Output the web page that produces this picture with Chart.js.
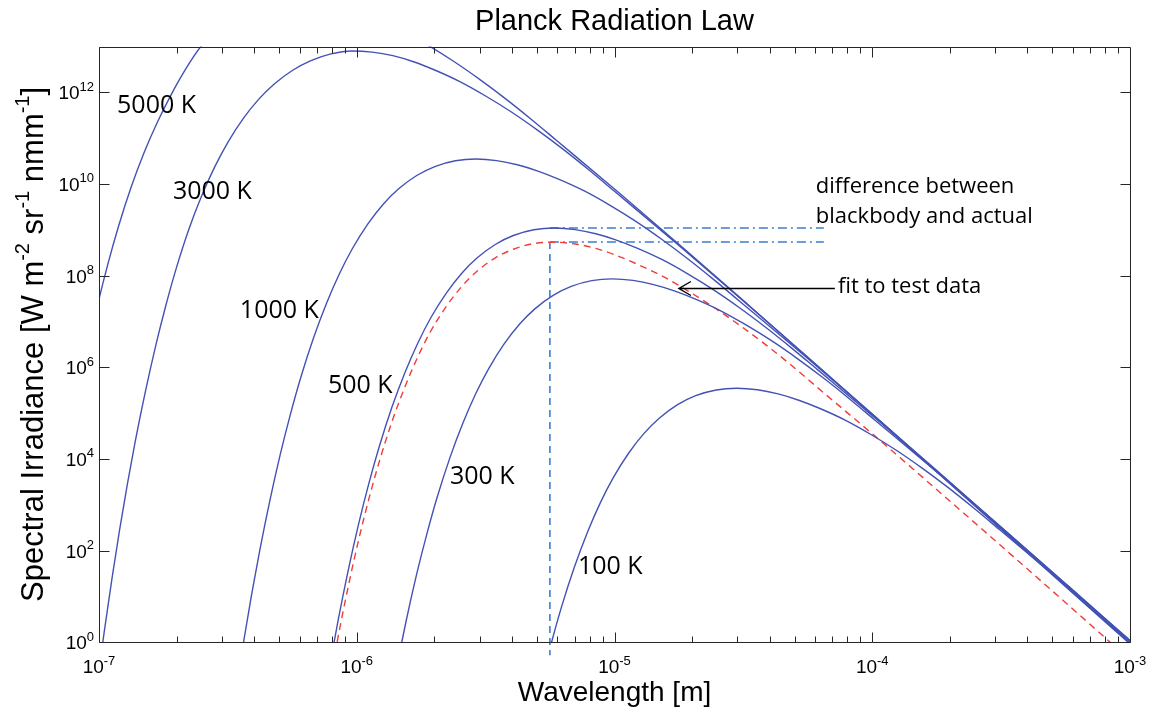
<!DOCTYPE html>
<html>
<head>
<meta charset="utf-8">
<title>Planck Radiation Law</title>
<script src="https://cdn.jsdelivr.net/npm/chart.js@4.4.1/dist/chart.umd.min.js"></script>
<style>
  html, body { margin: 0; padding: 0; background: #fff; }
  #wrap { width: 1151px; height: 711px; }
</style>
</head>
<body>
<div id="wrap"><canvas id="planck" width="1151" height="711"></canvas></div>
<script>
// wavelength [m] / spectral irradiance
var wl5000 = [9.027e-8, 9.897e-8, 1.085e-7, 1.190e-7, 1.335e-7, 1.498e-7, 1.681e-7, 1.886e-7, 2.165e-7, 2.486e-7, 2.854e-7, 3.353e-7, 3.940e-7, 4.737e-7, 5.695e-7, 6.847e-7, 8.232e-7, 9.897e-7, 1.190e-6, 1.498e-6, 1.886e-6, 2.374e-6, 2.989e-6, 3.762e-6, 4.736e-6, 5.963e-6, 1.060e-5, 1.886e-5, 3.353e-5, 5.963e-5, 1.060e-4, 1.886e-4, 3.353e-4, 5.963e-4, 1.060e-3];
var irr5000 = [2.427e6, 2.421e7, 1.879e8, 1.183e9, 8.790e9, 4.932e10, 2.173e11, 7.980e11, 3.162e12, 1.009e13, 2.344e13, 4.786e13, 7.516e13, 1.002e14, 1.094e14, 1.012e14, 8.204e13, 5.984e13, 4.000e13, 2.203e13, 1.069e13, 4.775e12, 1.945e12, 7.396e11, 2.624e11, 8.892e10, 5.875e9, 3.622e8, 2.133e7, 1.227e6, 6.902e4, 3.882e3, 218.3, 12.27, 0.690];

var wl3000 = [1.000e-7, 1.047e-7, 1.122e-7, 1.202e-7, 1.288e-7, 1.380e-7, 1.514e-7, 1.660e-7, 1.820e-7, 1.995e-7, 2.239e-7, 2.512e-7, 2.818e-7, 3.162e-7, 3.631e-7, 4.169e-7, 4.786e-7, 5.623e-7, 6.607e-7, 7.943e-7, 9.550e-7, 1.148e-6, 1.380e-6, 1.660e-6, 1.995e-6, 2.512e-6, 3.162e-6, 3.981e-6, 5.012e-6, 6.310e-6, 7.943e-6, 1.000e-5, 1.778e-5, 3.162e-5, 5.623e-5, 1.000e-4, 1.778e-4, 3.162e-4, 5.623e-4, 1.000e-3];
var irr3000 = [0.245, 1.652, 23.99, 285.1, 2.799e3, 2.317e4, 2.992e5, 2.985e6, 2.317e7, 1.459e8, 1.084e9, 5.821e9, 2.427e10, 8.128e10, 2.704e11, 7.112e11, 1.521e12, 2.992e12, 4.853e12, 6.887e12, 7.980e12, 7.551e12, 6.310e12, 4.656e12, 3.112e12, 1.714e12, 8.318e11, 3.715e11, 1.514e11, 5.754e10, 2.042e10, 6.918e9, 4.571e8, 2.818e7, 1.660e6, 9.550e4, 5.370e3, 302.0, 16.98, 0.955];

var wl1000 = [3.410e-7, 3.654e-7, 3.915e-7, 4.196e-7, 4.601e-7, 5.044e-7, 5.531e-7, 6.065e-7, 6.805e-7, 7.635e-7, 8.566e-7, 9.612e-7, 1.103e-6, 1.267e-6, 1.454e-6, 1.709e-6, 2.008e-6, 2.415e-6, 2.903e-6, 3.489e-6, 4.196e-6, 5.044e-6, 6.065e-6, 7.635e-6, 9.612e-6, 1.210e-5, 1.524e-5, 1.917e-5, 2.415e-5, 3.040e-5, 5.405e-5, 9.612e-5, 1.709e-4, 3.040e-4, 5.405e-4, 9.612e-4, 1.709e-3];
var irr1000 = [0.0986, 1.172, 11.51, 95.3, 1.230e3, 1.227e4, 9.528e4, 5.998e5, 4.457e6, 2.500e7, 1.102e8, 3.864e8, 1.334e9, 3.622e9, 7.852e9, 1.531e10, 2.404e10, 3.206e10, 3.499e10, 3.236e10, 2.624e10, 1.914e10, 1.279e10, 7.047e9, 3.420e9, 1.528e9, 6.223e8, 2.366e8, 8.395e7, 2.844e7, 1.879e6, 1.159e5, 6.823e3, 392.6, 22.08, 1.242, 0.0698];

var wl500 = [7.370e-7, 7.897e-7, 8.463e-7, 9.279e-7, 1.017e-6, 1.115e-6, 1.223e-6, 1.372e-6, 1.540e-6, 1.728e-6, 1.938e-6, 2.226e-6, 2.556e-6, 2.934e-6, 3.447e-6, 4.050e-6, 4.869e-6, 5.854e-6, 7.038e-6, 8.463e-6, 1.017e-5, 1.223e-5, 1.540e-5, 1.938e-5, 2.441e-5, 3.073e-5, 3.868e-5, 4.869e-5, 6.131e-5, 1.090e-4, 1.938e-4, 3.447e-4, 6.131e-4, 1.090e-3];
var irr500 = [0.0366, 0.360, 2.979, 38.46, 383.7, 2.979e3, 1.875e4, 1.393e5, 7.816e5, 3.443e6, 1.208e7, 4.169e7, 1.132e8, 2.455e8, 4.786e8, 7.516e8, 1.002e9, 1.094e9, 1.012e9, 8.204e8, 5.984e8, 4.000e8, 2.203e8, 1.069e8, 4.775e7, 1.945e7, 7.396e6, 2.624e6, 8.892e5, 5.875e4, 3.622e3, 213.3, 12.27, 0.690];

var wl300 = [1.419e-6, 1.556e-6, 1.706e-6, 1.871e-6, 2.051e-6, 2.301e-6, 2.582e-6, 2.897e-6, 3.251e-6, 3.732e-6, 4.286e-6, 4.921e-6, 5.780e-6, 6.792e-6, 8.165e-6, 9.817e-6, 1.180e-5, 1.419e-5, 1.706e-5, 2.051e-5, 2.582e-5, 3.251e-5, 4.093e-5, 5.153e-5, 6.487e-5, 8.165e-5, 1.028e-4, 1.828e-4, 3.251e-4, 5.780e-4, 1.028e-3];
var irr300 = [0.2317, 2.992, 29.85, 231.7, 1.459e3, 1.084e4, 6.081e4, 2.679e5, 9.397e5, 3.243e6, 8.810e6, 1.910e7, 3.724e7, 5.848e7, 7.798e7, 8.511e7, 7.870e7, 6.383e7, 4.656e7, 3.112e7, 1.714e7, 8.318e6, 3.715e6, 1.514e6, 5.754e5, 2.042e5, 6.918e4, 4.571e3, 281.8, 16.60, 0.955];

var wl100 = [5.186e-6, 5.685e-6, 6.234e-6, 6.995e-6, 7.848e-6, 8.807e-6, 9.880e-6, 1.134e-5, 1.302e-5, 1.495e-5, 1.757e-5, 2.065e-5, 2.482e-5, 2.984e-5, 3.587e-5, 4.313e-5, 5.186e-5, 6.234e-5, 7.848e-5, 9.880e-5, 1.244e-4, 1.566e-4, 1.972e-4, 2.482e-4, 3.124e-4, 5.556e-4, 9.880e-4, 1.757e-3];
var irr100 = [0.1227, 0.953, 5.998, 44.57, 250.0, 1.102e3, 3.864e3, 1.334e4, 3.622e4, 7.852e4, 1.531e5, 2.404e5, 3.206e5, 3.499e5, 3.236e5, 2.624e5, 1.914e5, 1.279e5, 7.047e4, 3.420e4, 1.528e4, 6.223e3, 2.366e3, 839.5, 284.4, 18.79, 1.159, 0.0682];

// red dashed curve: fit to test data
var wlFit = [7.370e-7, 7.897e-7, 8.463e-7, 9.279e-7, 1.017e-6, 1.115e-6, 1.223e-6, 1.372e-6, 1.540e-6, 1.728e-6, 1.938e-6, 2.226e-6, 2.556e-6, 2.934e-6, 3.447e-6, 4.050e-6, 4.869e-6, 5.854e-6, 7.038e-6, 8.463e-6, 1.017e-5, 1.223e-5, 1.540e-5, 1.938e-5, 2.441e-5, 3.073e-5, 3.868e-5, 4.869e-5, 6.131e-5, 1.090e-4, 1.938e-4, 3.447e-4, 6.131e-4, 1.090e-3];
var irrFit = [0.0160, 0.157, 1.300, 16.98, 171.4, 1.361e3, 8.770e3, 6.668e4, 3.828e5, 1.726e6, 6.194e6, 2.138e7, 5.808e7, 1.259e8, 2.455e8, 3.767e8, 5.023e8, 5.358e8, 4.898e8, 3.926e8, 2.767e8, 1.786e8, 9.616e7, 4.560e7, 1.991e7, 8.110e6, 3.083e6, 1.094e6, 3.622e5, 2.339e4, 1.409e3, 82.99, 4.775, 0.2685];

// peak markers (blackbody peak vs fitted peak)
var peakMarkWl = [5.615e-6, 5.615e-6];
var peakMarkIrr = [5.43e8, 0.52];
var levelWl = [5.615e-6, 6.49e-5];
var blackbodyLevel = [1.10e9, 1.10e9];
var fitLevel = [5.43e8, 5.43e8];

// arrow pointing at the fit: [tip, tail]
var arrowWl = [1.778e-5, 7.16e-5];
var arrowIrr = [5.37e7, 5.37e7];

var xTicks = [1e-7, 1e-6, 1e-5, 1e-4, 1e-3];
var xTickExp = ['-7', '-6', '-5', '-4', '-3'];
var yTicks = [1, 1e2, 1e4, 1e6, 1e8, 1e10, 1e12];
var yTickExp = ['0', '2', '4', '6', '8', '10', '12'];

// curve labels and notes, anchored in data coordinates (left edge, baseline)
var notes = [
  { text: '5000 K', wl: 1.175e-7, irr: 3.5e11 },
  { text: '3000 K', wl: 1.936e-7, irr: 4.7e9 },
  { text: '1000 K', wl: 3.52e-7, irr: 1.2e7 },
  { text: '500 K', wl: 7.73e-7, irr: 2.75e5 },
  { text: '300 K', wl: 2.30e-6, irr: 2.8e3 },
  { text: '100 K', wl: 7.21e-6, irr: 31 },
  { text: 'difference between', wl: 6.04e-5, irr: 6.4e9, small: true },
  { text: 'blackbody and actual', wl: 6.04e-5, irr: 1.4e9, small: true },
  { text: 'fit to test data', wl: 7.36e-5, irr: 4.2e7, small: true }
];

var axisFont = '"Liberation Sans", Arial, sans-serif';
var noteFont = '"Open Sans", "Noto Sans", sans-serif';
var ink = '#262626';
var curveBlue = '#4352b4';
var fitRed = '#f03c3c';
var markBlue = '#3b7dcc';

function pairs(xs, ys) {
  return xs.map(function (x, i) { return { x: x, y: ys[i] }; });
}

function planck(xs, ys) {
  return {
    data: pairs(xs, ys),
    borderColor: curveBlue,
    borderWidth: 1.4,
    pointRadius: 0,
    cubicInterpolationMode: 'monotone'
  };
}

function marker(xs, ys, dash) {
  return {
    data: pairs(xs, ys),
    borderColor: markBlue,
    borderWidth: 1.6,
    borderDash: dash,
    pointRadius: 0,
    tension: 0,
    clip: { left: 0, top: 0, right: 0, bottom: false }
  };
}

// mix of normal / superscript runs on one baseline
function richText(ctx, parts, x, y, align, size) {
  var small = Math.round(size * 0.66);
  var rise = size * 0.45;
  var widths = parts.map(function (p) {
    ctx.font = (p[1] ? small : size) + 'px ' + axisFont;
    return ctx.measureText(p[0]).width;
  });
  var total = widths.reduce(function (s, w) { return s + w; }, 0);
  var cx = align === 'center' ? x - total / 2 : (align === 'right' ? x - total : x);
  ctx.textAlign = 'left';
  ctx.textBaseline = 'alphabetic';
  parts.forEach(function (p, i) {
    ctx.font = (p[1] ? small : size) + 'px ' + axisFont;
    ctx.fillText(p[0], cx, p[1] ? y - rise : y);
    cx += widths[i];
  });
}

var matlabAxes = {
  id: 'matlabAxes',
  afterDraw: function (chart) {
    var ctx = chart.ctx;
    var a = chart.chartArea;
    var sx = chart.scales.x;
    var sy = chart.scales.y;
    var L = Math.round(a.left) + 0.5, R = Math.round(a.right) + 0.5;
    var T = Math.round(a.top) + 0.5, B = Math.round(a.bottom) + 0.5;

    ctx.save();
    ctx.strokeStyle = ink;
    ctx.lineWidth = 1;
    ctx.beginPath();
    ctx.rect(L, T, R - L, B - T);

    // x ticks point inward on bottom and top, minor ticks at 2..9
    for (var e = -7; e < -3; e++) {
      for (var k = 1; k < 10; k++) {
        var px = Math.round(sx.getPixelForValue(k * Math.pow(10, e))) + 0.5;
        var len = k === 1 ? 10 : 6;
        ctx.moveTo(px, B); ctx.lineTo(px, B - len);
        ctx.moveTo(px, T); ctx.lineTo(px, T + len);
      }
    }
    yTicks.forEach(function (v) {
      var py = Math.round(sy.getPixelForValue(v)) + 0.5;
      ctx.moveTo(L, py); ctx.lineTo(L + 10, py);
      ctx.moveTo(R, py); ctx.lineTo(R - 10, py);
    });
    ctx.stroke();

    ctx.fillStyle = '#000';
    xTicks.forEach(function (v, i) {
      richText(ctx, [['10', false], [xTickExp[i], true]], sx.getPixelForValue(v), a.bottom + 31, 'center', 19);
    });
    yTicks.forEach(function (v, i) {
      richText(ctx, [['10', false], [yTickExp[i], true]], a.left - 5, sy.getPixelForValue(v) + 7, 'right', 19);
    });

    // title and axis titles
    ctx.textAlign = 'center';
    ctx.textBaseline = 'alphabetic';
    ctx.font = '29px ' + axisFont;
    ctx.fillText('Planck Radiation Law', (a.left + a.right) / 2, 30);
    ctx.font = '28px ' + axisFont;
    ctx.fillText('Wavelength [m]', (a.left + a.right) / 2, 701);

    ctx.save();
    ctx.translate(43, (a.top + a.bottom) / 2);
    ctx.rotate(-Math.PI / 2);
    richText(ctx, [['Spectral Irradiance [W m', false], ['-2', true], [' sr', false], ['-1', true],
      [' nmm', false], ['-1', true], [']', false]], 0, 0, 'center', 31);
    ctx.restore();

    // curve labels and notes
    notes.forEach(function (n) {
      ctx.font = (n.small ? 22 : 25) + 'px ' + noteFont;
      ctx.textAlign = 'left';
      ctx.fillText(n.text, sx.getPixelForValue(n.wl), sy.getPixelForValue(n.irr));
    });

    // arrow to the fitted curve
    var tipX = sx.getPixelForValue(arrowWl[0]), tailX = sx.getPixelForValue(arrowWl[1]);
    var ay = Math.round(sy.getPixelForValue(arrowIrr[0])) + 0.5;
    ctx.strokeStyle = '#000';
    ctx.lineWidth = 1.4;
    ctx.beginPath();
    ctx.moveTo(tailX, ay); ctx.lineTo(tipX, ay);
    ctx.moveTo(tipX + 12, ay - 7); ctx.lineTo(tipX, ay); ctx.lineTo(tipX + 12, ay + 7);
    ctx.stroke();
    ctx.restore();
  }
};

new Chart(document.getElementById('planck'), {
  type: 'line',
  data: {
    datasets: [
      planck(wl5000, irr5000),
      planck(wl3000, irr3000),
      planck(wl1000, irr1000),
      planck(wl500, irr500),
      planck(wl300, irr300),
      planck(wl100, irr100),
      {
        data: pairs(wlFit, irrFit),
        borderColor: fitRed,
        borderWidth: 1.4,
        borderDash: [7, 5],
        pointRadius: 0,
        cubicInterpolationMode: 'monotone'
      },
      marker(peakMarkWl, peakMarkIrr, [7, 5]),
      marker(levelWl, blackbodyLevel, [9, 4, 2, 4]),
      marker(levelWl, fitLevel, [9, 4, 2, 4])
    ]
  },
  options: {
    responsive: false,
    animation: false,
    layout: { padding: { left: 99, right: 21, top: 46.5, bottom: 68.7 } },
    elements: { line: { capBezierPoints: false, fill: false } },
    plugins: { legend: { display: false }, tooltip: { enabled: false }, title: { display: false } },
    scales: {
      x: { type: 'logarithmic', min: 1e-7, max: 1e-3, display: false },
      y: { type: 'logarithmic', min: 1, max: 1e13, display: false }
    }
  },
  plugins: [matlabAxes]
});
</script>
</body>
</html>
